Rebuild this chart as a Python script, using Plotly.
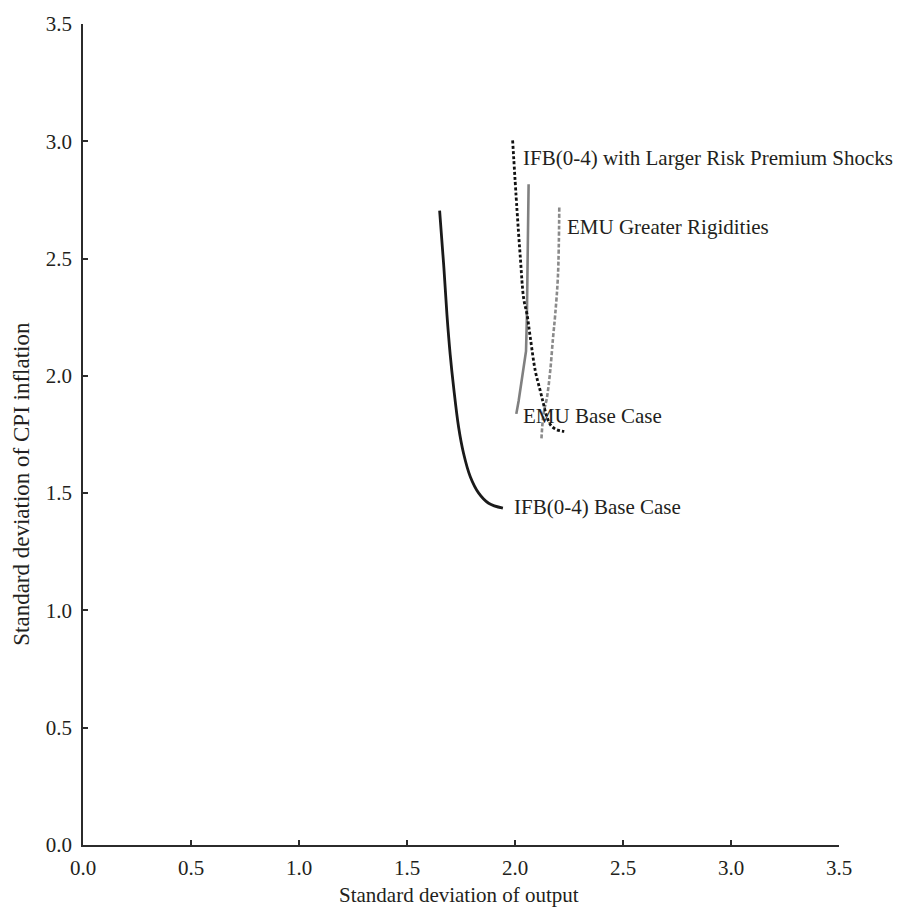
import plotly.graph_objects as go

# IFB(0-4) Base Case
ifb_base_x = [1.651, 1.670, 1.685, 1.700, 1.716, 1.739, 1.762, 1.793, 1.832, 1.878, 1.944]
ifb_base_y = [2.704, 2.471, 2.260, 2.091, 1.950, 1.781, 1.669, 1.570, 1.500, 1.457, 1.436]

# IFB(0-4) with Larger Risk Premium Shocks
ifb_large_x = [1.989, 2.009, 2.025, 2.040, 2.056, 2.071, 2.094, 2.117, 2.132, 2.148, 2.167, 2.194, 2.228]
ifb_large_y = [3.004, 2.711, 2.500, 2.331, 2.260, 2.162, 2.021, 1.936, 1.880, 1.824, 1.788, 1.770, 1.763]

# EMU Base Case
emu_base_x = [2.063, 2.058, 2.055, 2.051, 2.032, 2.017, 2.006]
emu_base_y = [2.817, 2.373, 2.250, 2.105, 1.978, 1.894, 1.838]

# EMU Greater Rigidities
emu_rig_x = [2.205, 2.199, 2.186, 2.176, 2.163, 2.148, 2.132, 2.122]
emu_rig_y = [2.718, 2.429, 2.260, 2.162, 2.021, 1.908, 1.838, 1.725]

tick_vals = [0.0, 0.5, 1.0, 1.5, 2.0, 2.5, 3.0, 3.5]
tick_text = ["0.0", "0.5", "1.0", "1.5", "2.0", "2.5", "3.0", "3.5"]

labels = [
    ("IFB(0-4) with Larger Risk Premium Shocks", 2.026, 2.929),
    ("EMU Greater Rigidities", 2.232, 2.633),
    ("EMU Base Case", 2.026, 1.828),
    ("IFB(0-4) Base Case", 1.987, 1.441),
]

TXT = "#231f20"
FONT = "Liberation Serif"

fig = go.Figure()
fig.add_trace(go.Scatter(x=ifb_base_x, y=ifb_base_y, mode="lines",
                         line=dict(color="#1a1a1a", width=2.8, shape="spline"),
                         name="IFB(0-4) Base Case"))
fig.add_trace(go.Scatter(x=emu_base_x, y=emu_base_y, mode="lines",
                         line=dict(color="#808080", width=2.6),
                         name="EMU Base Case"))
fig.add_trace(go.Scatter(x=emu_rig_x, y=emu_rig_y, mode="lines",
                         line=dict(color="#8a8a8a", width=2.6, dash="4px,2px", shape="spline"),
                         name="EMU Greater Rigidities"))
fig.add_trace(go.Scatter(x=ifb_large_x, y=ifb_large_y, mode="lines",
                         line=dict(color="#111111", width=2.8, dash="3px,2.2px", shape="spline"),
                         name="IFB(0-4) with Larger Risk Premium Shocks"))

for txt, lx, ly in labels:
    fig.add_annotation(x=lx, y=ly, xref="x", yref="y", text=txt, showarrow=False,
                       xanchor="left", yanchor="middle",
                       font=dict(family=FONT, size=21, color=TXT))

fig.add_annotation(x=0.498, y=-0.0603, xref="paper", yref="paper",
                   text="Standard deviation of output", showarrow=False,
                   xanchor="center", yanchor="middle",
                   font=dict(family=FONT, size=21, color=TXT))
fig.add_annotation(x=-0.0807, y=0.44, xref="paper", yref="paper",
                   text="Standard deviation of CPI inflation", showarrow=False,
                   textangle=-90, xanchor="center", yanchor="middle",
                   font=dict(family=FONT, size=23, color=TXT))

axis_common = dict(range=[0, 3.5], tickvals=tick_vals, ticktext=tick_text,
                   showgrid=False, zeroline=False, showline=True,
                   linecolor="#2b2b2b", linewidth=1.5, ticks="inside",
                   ticklen=5, tickwidth=1.5, tickcolor="#2b2b2b",
                   tickfont=dict(family=FONT, size=21, color=TXT))

fig.update_layout(
    width=899, height=907,
    margin=dict(l=83, r=60, t=17, b=62),
    paper_bgcolor="white", plot_bgcolor="white",
    showlegend=False,
    xaxis=dict(**axis_common, ticklabelstandoff=3),
    yaxis=dict(**axis_common, ticklabelstandoff=5),
)

fig.write_html("out.html")
